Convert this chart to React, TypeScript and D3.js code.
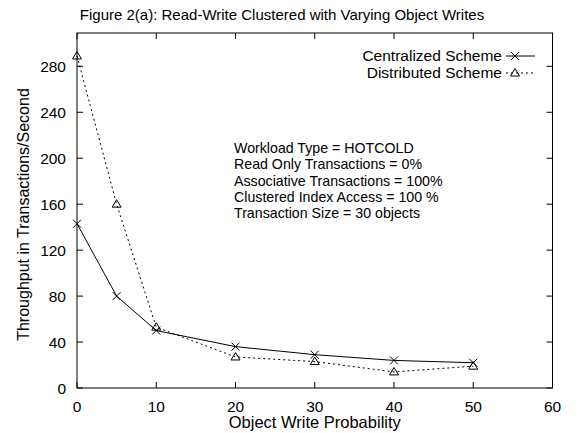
import React from 'react';
import * as d3 from 'd3';

// data
const writeProb = [0, 5, 10, 20, 30, 40, 50];
const centralized = [143, 80, 50, 36, 29, 24, 22];
const distributed = [289, 160, 53, 27, 23, 14, 19];
const xTicks = [0, 10, 20, 30, 40, 50, 60];
const yTicks = [0, 40, 80, 120, 160, 200, 240, 280];
const notes = [
  'Workload Type = HOTCOLD',
  'Read Only Transactions = 0%',
  'Associative Transactions = 100%',
  'Clustered Index Access = 100 %',
  'Transaction Size = 30 objects',
];

const W = 582;
const H = 433;
const margin = {top: 33, right: 30, bottom: 45, left: 77};
const font = '"Liberation Sans", Arial, Helvetica, sans-serif';

const Cross = ({x, y}: {x: number; y: number}) => (
  <path d={`M${x - 4},${y - 4}L${x + 4},${y + 4}M${x - 4},${y + 4}L${x + 4},${y - 4}`} stroke="#000" strokeWidth={1} />
);
const Tri = ({x, y}: {x: number; y: number}) => (
  <path d={`M${x},${y - 4.5}L${x + 4.5},${y + 3}L${x - 4.5},${y + 3}Z`} stroke="#000" strokeWidth={1} fill="none" />
);

const App = () => {
  const x = d3.scaleLinear().domain([0, 60]).range([margin.left, W - margin.right + 0.5]);
  const y = d3.scaleLinear().domain([0, 309]).range([H - margin.bottom, margin.top]);
  const line = d3
    .line<number>()
    .x((d, i) => x(writeProb[i]))
    .y((d) => y(d));
  const left = x(0);
  const right = x(60);
  const top = y(309);
  const bottom = y(0);

  return (
    <svg width={W} height={H} style={{position: 'absolute', left: 0, top: 0}} fontFamily={font}>
      <rect width={W} height={H} fill="#fff" />
      <text x={282} y={20} fontSize={15} textAnchor="middle">
        Figure 2(a): Read-Write Clustered with Varying Object Writes
      </text>
      {/* frame */}
      <rect x={left} y={top} width={right - left} height={bottom - top} fill="none" stroke="#000" strokeWidth={1} />
      {/* x ticks, mirrored on top */}
      {xTicks.map((t) => (
        <g key={'x' + t}>
          <line x1={x(t)} x2={x(t)} y1={bottom} y2={bottom - 6} stroke="#000" />
          <line x1={x(t)} x2={x(t)} y1={top} y2={top + 6} stroke="#000" />
          <text x={x(t)} y={bottom + 23.5} fontSize={15.5} textAnchor="middle">
            {t}
          </text>
        </g>
      ))}
      {/* y ticks, mirrored on right */}
      {yTicks.map((t) => (
        <g key={'y' + t}>
          <line x1={left} x2={left + 6} y1={y(t)} y2={y(t)} stroke="#000" />
          <line x1={right} x2={right - 6} y1={y(t)} y2={y(t)} stroke="#000" />
          <text x={left - 11} y={y(t) + 5.5} fontSize={15.5} textAnchor="end">
            {t}
          </text>
        </g>
      ))}
      <text x={(left + right) / 2} y={H - 5} fontSize={16.5} textAnchor="middle">
        Object Write Probability
      </text>
      <text
        transform={`translate(29,${(top + bottom) / 2 + 4}) rotate(-90)`}
        fontSize={16}
        textAnchor="middle"
      >
        Throughput in Transactions/Second
      </text>
      {/* series */}
      <path d={line(centralized) || ''} fill="none" stroke="#000" strokeWidth={1} />
      <path d={line(distributed) || ''} fill="none" stroke="#000" strokeWidth={1} strokeDasharray="2,3" />
      {centralized.map((v, i) => (
        <Cross key={'c' + i} x={x(writeProb[i])} y={y(v)} />
      ))}
      {distributed.map((v, i) => (
        <Tri key={'d' + i} x={x(writeProb[i])} y={y(v)} />
      ))}
      {/* legend */}
      <text x={502} y={61} fontSize={15.5} textAnchor="end">
        Centralized Scheme
      </text>
      <line x1={506} x2={535} y1={56} y2={56} stroke="#000" />
      <Cross x={515} y={56} />
      <text x={502} y={78} fontSize={15.5} textAnchor="end">
        Distributed Scheme
      </text>
      <line x1={506} x2={535} y1={73} y2={73} stroke="#000" strokeDasharray="2,3" />
      <Tri x={515} y={73} />
      {/* workload annotation */}
      {notes.map((n, i) => (
        <text key={n} x={234} y={153 + i * 16.3} fontSize={14.2}>
          {n}
        </text>
      ))}
    </svg>
  );
};

export default App;
